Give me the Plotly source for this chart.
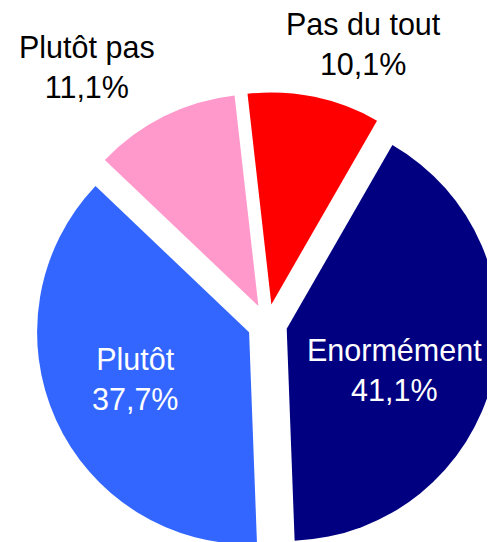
import plotly.graph_objects as go

labels = ["Enormément", "Plutôt", "Plutôt pas", "Pas du tout"]
values = [41.1, 37.7, 11.1, 10.1]
colors = ["#000080", "#3366FF", "#FF99CC", "#FF0000"]
label_colors = ["white", "white", "black", "black"]

# label centres in paper coordinates
label_xy = [(0.7812, 0.3536), (0.2566, 0.3375), (0.1596, 0.8946), (0.7172, 0.9357)]

FONT = "Liberation Sans, Arial, sans-serif"
FS = 30.5

def pct(v):
    return f"{v / sum(values) * 100:.1f}".replace(".", ",") + "%"

fig = go.Figure(go.Pie(
    labels=labels,
    values=values,
    sort=False,
    direction="clockwise",
    rotation=29.9,
    pull=[0.0943] * 4,
    marker=dict(colors=colors, line=dict(width=0)),
    textinfo="none",
    domain=dict(x=[0.0552, 0.9925], y=[0.0214, 0.85]),
    hoverinfo="none",
))

for lab, v, col, (x, y) in zip(labels, values, label_colors, label_xy):
    fig.add_annotation(
        x=x, y=y, xref="paper", yref="paper",
        text=f"{lab}<br>{pct(v)}",
        showarrow=False, xanchor="center", yanchor="middle",
        font=dict(family=FONT, size=FS, color=col),
    )

fig.update_layout(
    width=495,
    height=560,
    margin=dict(l=0, r=0, t=0, b=0),
    showlegend=False,
    paper_bgcolor="white",
    plot_bgcolor="white",
)

fig.write_html("out.html")
